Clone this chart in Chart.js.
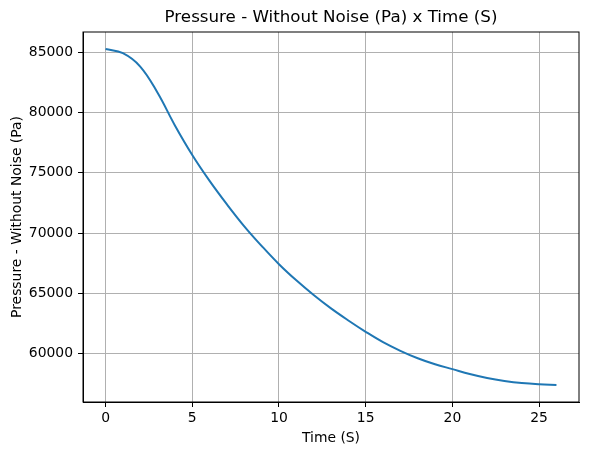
<!DOCTYPE html>
<html>
<head>
<meta charset="utf-8">
<script src="https://cdn.jsdelivr.net/npm/chart.js@4"></script>
<style>
  html, body { margin: 0; padding: 0; background: #fff; }
  #wrap { width: 589px; height: 455px; }
</style>
</head>
<body>
<div id="wrap"><canvas id="chart"></canvas></div>
<script>
// values
const timeS = [0, 1, 2, 3, 4, 5, 6, 7, 8, 9, 10, 11, 12, 13, 14, 15, 16, 17, 18, 19, 20, 21, 22, 23, 24, 25, 26];
const pressurePa = [85280, 84930, 83820, 81640, 78930, 76480, 74330, 72380, 70560, 68930, 67410, 66070, 64850, 63740, 62740, 61800, 60940, 60220, 59600, 59100, 58700, 58300, 57970, 57720, 57540, 57440, 57390];
const xTicks = [0, 5, 10, 15, 20, 25];
const yTicks = [60000, 65000, 70000, 75000, 80000, 85000];

const titleText = "Pressure - Without Noise (Pa) x Time (S)";
const xLabel = "Time (S)";
const yLabel = "Pressure - Without Noise (Pa)";
const FONT = "DejaVu Sans";

// frame + titles drawn like matplotlib
const framePlugin = {
  id: "frame",
  afterDraw(chart) {
    const { ctx, chartArea: a } = chart;
    ctx.save();
    ctx.strokeStyle = "#000";
    ctx.lineWidth = 1;
    ctx.strokeRect(a.left, a.top, a.right - a.left, a.bottom - a.top);
    ctx.fillStyle = "#000";
    ctx.textAlign = "center";
    ctx.textBaseline = "middle";
    ctx.font = "16.7px '" + FONT + "'";
    ctx.fillText(titleText, (a.left + a.right) / 2, 18);
    ctx.font = "13.9px '" + FONT + "'";
    ctx.fillText(xLabel, (a.left + a.right) / 2, 438);
    ctx.translate(17, (a.top + a.bottom) / 2);
    ctx.rotate(-Math.PI / 2);
    ctx.fillText(yLabel, 0, 0);
    ctx.restore();
  }
};

new Chart(document.getElementById("chart"), {
  type: "line",
  data: {
    datasets: [{
      data: timeS.map((t, i) => ({ x: t, y: pressurePa[i] })),
      borderColor: "#1f77b4",
      borderWidth: 2,
      pointRadius: 0,
      tension: 0.4,
      fill: false
    }]
  },
  options: {
    responsive: true,
    maintainAspectRatio: false,
    animation: false,
    layout: { padding: { top: 32, right: 10, left: 0, bottom: 0 } },
    plugins: { legend: { display: false }, tooltip: { enabled: false }, title: { display: false } },
    scales: {
      x: {
        type: "linear",
        min: -1.3,
        max: 27.3,
        afterBuildTicks: s => { s.ticks = xTicks.map(v => ({ value: v })); },
        afterFit: s => { s.height = 53; },
        grid: { color: "#b0b0b0", lineWidth: 1, tickColor: "#000", tickLength: 5 },
        border: { color: "#000", width: 1 },
        ticks: { color: "#000", padding: 3, font: { family: FONT, size: 13.9 }, maxRotation: 0 }
      },
      y: {
        type: "linear",
        min: 55970,
        max: 86690,
        afterBuildTicks: s => { s.ticks = yTicks.map(v => ({ value: v })); },
        afterFit: s => { s.width = 83; },
        grid: { color: "#b0b0b0", lineWidth: 1, tickColor: "#000", tickLength: 5 },
        border: { color: "#000", width: 1 },
        ticks: { color: "#000", padding: 5, font: { family: FONT, size: 13.9 }, callback: v => String(v) }
      }
    }
  },
  plugins: [framePlugin]
});
</script>
</body>
</html>
